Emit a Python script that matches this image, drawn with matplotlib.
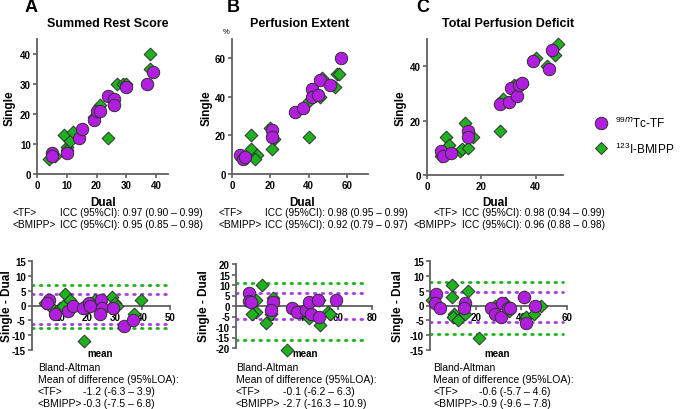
import matplotlib
matplotlib.use("Agg")
import matplotlib.pyplot as plt
from matplotlib.lines import Line2D

plt.rcParams['font.family'] = ['Liberation Sans', 'DejaVu Sans']
plt.rcParams['mathtext.fontset'] = 'custom'
plt.rcParams['mathtext.rm'] = 'Liberation Sans'
plt.rcParams['axes.unicode_minus'] = False

PURPLE = '#B21EE0'
GREEN = '#1FB21F'
EDGE = '#303030'
AXC = '#606060'

# ---- A: Summed Rest Score (dual vs single) ----
srs_tf_dual = [5, 5, 10, 14, 15, 19, 20, 21, 24, 26, 26, 30, 37, 39]
srs_tf_single = [7, 6, 7, 12, 15, 18, 21, 21, 26, 25, 23, 29, 30, 34]
srs_bm_dual = [4, 6, 9, 10, 10, 11, 12, 19, 21, 24, 27, 29, 30, 38, 38]
srs_bm_single = [5, 6, 13, 9, 8, 11, 14, 19, 23, 12, 30, 30, 30, 35, 40]
# Bland-Altman (mean, single - dual)
srs_tf_mean = [6, 5.5, 8.5, 13, 15, 18.5, 20.5, 21, 25, 25.5, 24.5, 29.5, 33.5, 36.5]
srs_tf_diff = [2, 1, -3, -2, 0, -1, 1, 0, 2, -1, -3, -1, -7, -5]
srs_bm_mean = [4.8, 6.6, 11.8, 10.2, 11.4, 13.9, 19, 22.9, 18.7, 28.9, 30.1, 30.7, 37, 39.4]
srs_bm_diff = [1, 0, 4, -1, 0, 2, 0, 2, -12, 3, 1, 0, -3, 2]
srs_tf_loa = [-6.3, 3.9]
srs_bm_loa = [-7.5, 6.8]

# ---- B: Perfusion Extent ----
pe_tf_dual = [4, 5.5, 7, 21, 21, 33, 37, 42, 42, 45, 46, 51, 57]
pe_tf_single = [10, 8, 9, 23, 19, 32, 34, 44, 40, 41, 49, 46, 60]
pe_bm_dual = [10, 10, 13, 12, 20, 22, 21, 40, 40, 46, 47, 54, 55, 56]
pe_bm_single = [20, 13, 10, 8, 24, 18, 13, 38, 19, 40, 50, 45, 52, 52]
pe_tf_mean = [7.5, 7.5, 9, 22, 20.5, 33, 36, 41, 43, 44, 48, 49, 59]
pe_tf_diff = [6, 2.5, 2, 2, -2, -1, -3, -2, 2, -4, 3, -5, 3]
pe_bm_mean = [15.5, 11.5, 11.5, 9.5, 22, 20.5, 17.5, 40.5, 30, 43, 49, 49.5, 54, 55]
pe_bm_diff = [10, 3, -3, -4, 4, -4, -8, -2, -21, -5.5, 3, -9, -3, -4]
pe_tf_loa = [-6.2, 6.3]
pe_bm_loa = [-16.3, 10.9]

# ---- C: Total Perfusion Deficit ----
tpd_tf_dual = [5, 6, 9, 15, 15, 27, 30, 31, 33, 34, 35, 39, 45, 46]
tpd_tf_single = [9, 7, 8, 16, 14, 26, 27, 32, 29, 33, 34, 42, 39, 46]
tpd_bm_dual = [5, 7, 8, 12, 13, 14, 15, 17, 27, 28, 32, 35, 40, 44, 47, 48]
tpd_bm_single = [7, 14, 11, 9, 9.5, 19, 10, 14, 16, 28, 33, 33.5, 43, 40, 44, 48]
tpd_tf_mean = [2.7, 2, 4.3, 15.5, 14.8, 26.6, 28.5, 31.5, 31.2, 34, 35, 41.2, 42.2, 46]
tpd_tf_diff = [4, 1, -1, 1, -1, -1, -3, 1, -4, -1, -1, 3, -6, 0]
tpd_bm_mean = [1, 9.5, 9.5, 10.5, 10, 12.3, 16.5, 15.5, 21.3, 28.5, 33, 34.5, 41.2, 42.2, 45.7, 48.7]
tpd_bm_diff = [2, 7, 3, -3, -4, -5, 5, -3, -11, 0, 1, -2, 3, -4, -3, 0]
tpd_tf_loa = [-5.7, 4.6]
tpd_bm_loa = [-9.6, 7.8]

titles = ["Summed Rest Score", "Perfusion Extent", "Total Perfusion Deficit"]
letters = ["A", "B", "C"]
icc_tf = ["0.97 (0.90 – 0.99)", "0.98 (0.95 – 0.99)", "0.98 (0.94 – 0.99)"]
icc_bm = ["0.95 (0.85 – 0.98)", "0.92 (0.79 – 0.97)", "0.96 (0.88 – 0.98)"]
ba_tf = ["-1.2 (-6.3 – 3.9)", "-0.1 (-6.2 – 6.3)", "-0.6 (-5.7 – 4.6)"]
ba_bm = ["-0.3 (-7.5 – 6.8)", "-2.7 (-16.3 – 10.9)", "-0.9 (-9.6 – 7.8)"]

W, H = 685, 410
fig = plt.figure(figsize=(6.85, 4.1), dpi=100)


def fbox(x0, y0, x1, y1):
    # pixel box (top-left origin) -> figure coords
    return [x0 / W, 1 - y1 / H, (x1 - x0) / W, (y1 - y0) / H]


def ftext(x, y, s, **kw):
    fig.text(x / W, 1 - y / H, s, **kw)


def style_axis(ax):
    for side in ['top', 'right']:
        ax.spines[side].set_visible(False)
    for side in ['left', 'bottom']:
        ax.spines[side].set_color(AXC)
        ax.spines[side].set_linewidth(1.3)
    ax.tick_params(direction='out', length=3, width=1.2, color=AXC, labelsize=7, pad=1.5)
    for lab in ax.get_xticklabels() + ax.get_yticklabels():
        lab.set_fontweight('bold')


def draw_points(ax, tx, ty, bx, by):
    ax.scatter(bx, by, marker='D', s=42, color=GREEN, edgecolor=EDGE, linewidth=0.7, zorder=3, clip_on=False)
    ax.scatter(tx, ty, marker='o', s=80, color=PURPLE, edgecolor=EDGE, linewidth=0.7, zorder=4, clip_on=False)


def scatter_panel(box, data, lim, ticks):
    ax = fig.add_axes(fbox(*box))
    draw_points(ax, *data)
    ax.set_xlim(0, lim[0])
    ax.set_ylim(0, lim[1])
    ax.set_xticks(ticks[0])
    ax.set_yticks(ticks[1])
    style_axis(ax)
    return ax


def ba_panel(box, data, tf_loa, bm_loa, xmax, yl, xt, yt):
    ax = fig.add_axes(fbox(*box))
    ax.set_axisbelow(True)
    for v in bm_loa:
        ax.plot([0, xmax * 0.97], [v, v], color=GREEN, lw=2, ls=(0, (0.6, 2.2)),
                dash_capstyle='round', zorder=2)
    for v in tf_loa:
        ax.plot([0, xmax * 0.97], [v, v], color='#A63FE0', lw=2, ls=(0, (0.6, 2.2)),
                dash_capstyle='round', zorder=2)
    draw_points(ax, *data)
    ax.set_xlim(0, xmax)
    ax.set_ylim(-yl, yl)
    ax.set_xticks(xt)
    ax.set_yticks(yt)
    ax.spines['bottom'].set_position(('data', 0))
    style_axis(ax)
    return ax


# top row
scatter_panel((37, 40, 168, 175), (srs_tf_dual, srs_tf_single, srs_bm_dual, srs_bm_single),
              (44, 45), ([0, 10, 20, 30, 40], [0, 10, 20, 30, 40]))
scatter_panel((232, 40, 368, 175), (pe_tf_dual, pe_tf_single, pe_bm_dual, pe_bm_single),
              (71, 70), ([0, 20, 40, 60], [0, 20, 40, 60]))
scatter_panel((427, 40, 563, 176), (tpd_tf_dual, tpd_tf_single, tpd_bm_dual, tpd_bm_single),
              (50, 50), ([0, 20, 40], [0, 20, 40]))

# bottom row
ba_panel((32, 262, 170, 351), (srs_tf_mean, srs_tf_diff, srs_bm_mean, srs_bm_diff),
         srs_tf_loa, srs_bm_loa, 50, 15, [10, 20, 30, 40, 50], [-15, -10, -5, 0, 5, 10, 15])
ba_panel((236, 265, 372, 349), (pe_tf_mean, pe_tf_diff, pe_bm_mean, pe_bm_diff),
         pe_tf_loa, pe_bm_loa, 80, 20, [20, 40, 60, 80], [-20, -15, -10, -5, 0, 5, 10, 15, 20])
ba_panel((430, 262, 567, 351), (tpd_tf_mean, tpd_tf_diff, tpd_bm_mean, tpd_bm_diff),
         tpd_tf_loa, tpd_bm_loa, 60, 15, [20, 40, 60], [-15, -10, -5, 0, 5, 10, 15])

# panel letters and titles
letter_x = [31, 233, 423]
title_x = [108, 300, 508]
single_x = [10, 207, 401]
dual_x = [103, 302, 495]
tf_x = [12, 218, 433]
bm_x = [12, 218, 414]
icc_x = [60, 265, 462]
bland_x = [38, 236, 433]
val_x = [83, 283, 479]
mean_x = [100, 305, 497]

for i in range(3):
    ftext(letter_x[i], 8, letters[i], fontsize=13, fontweight='bold', ha='center', va='center')
    ftext(title_x[i], 24, titles[i], fontsize=9, fontweight='bold', ha='center', va='center')
    ftext(single_x[i], 108, "Single", fontsize=8.5, fontweight='bold', rotation=90, ha='center', va='center')
    ftext(dual_x[i], 203, "Dual", fontsize=8.5, fontweight='bold', ha='center', va='center')
    ftext(tf_x[i], 213, "<TF>", fontsize=7.3, va='center')
    ftext(icc_x[i], 213, "ICC (95%CI): " + icc_tf[i], fontsize=7.3, va='center')
    ftext(bm_x[i], 225, "<BMIPP>", fontsize=7.3, va='center')
    ftext(icc_x[i], 225, "ICC (95%CI): " + icc_bm[i], fontsize=7.3, va='center')
    ftext(single_x[i] - 3, 306, "Single - Dual", fontsize=8.5, fontweight='bold', rotation=90,
          ha='center', va='center')
    ftext(mean_x[i], 354, "mean", fontsize=7, fontweight='bold', ha='center', va='center')
    ftext(bland_x[i], 368, "Bland-Altman", fontsize=7.5, va='center')
    ftext(bland_x[i], 380, "Mean of difference (95%LOA):", fontsize=7.5, va='center')
    ftext(bland_x[i], 392, "<TF>", fontsize=7.5, va='center')
    ftext(val_x[i], 392, ba_tf[i], fontsize=7.5, va='center')
    ftext(bland_x[i], 404, "<BMIPP>", fontsize=7.5, va='center')
    ftext(val_x[i], 404, ba_bm[i], fontsize=7.5, va='center')

ftext(226, 33, "%", fontsize=5.5, ha='center', va='center')

# legend
handles = [
    Line2D([], [], marker='o', ls='none', markersize=9, markerfacecolor=PURPLE,
           markeredgecolor=EDGE, markeredgewidth=0.7),
    Line2D([], [], marker='D', ls='none', markersize=6, markerfacecolor=GREEN,
           markeredgecolor=EDGE, markeredgewidth=0.7),
]
fig.legend(handles, [r'$^{99m}$Tc-TF', r'$^{123}$I-BMIPP'], loc='center left',
           bbox_to_anchor=(593 / W, 1 - 136 / H), frameon=False, fontsize=8.5,
           handletextpad=0.5, handlelength=1.4, labelspacing=0.9, borderaxespad=0, borderpad=0)

fig.savefig("out.png", dpi=100)
